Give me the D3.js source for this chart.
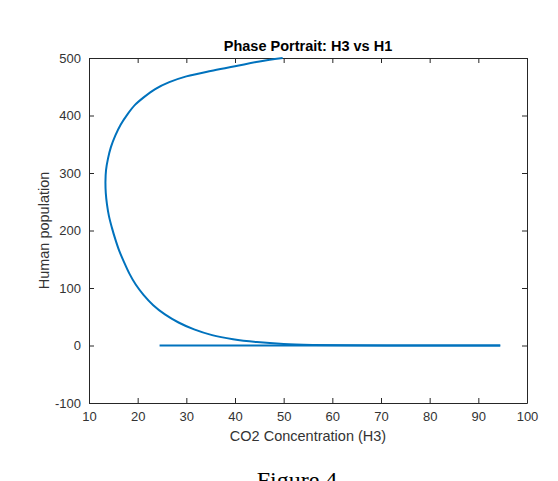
<!DOCTYPE html>
<html>
<head>
<meta charset="utf-8">
<script src="https://cdn.jsdelivr.net/npm/d3@7"></script>
<style>
  body { margin: 0; background: #fff; }
  svg { display: block; }
  .axis text { font-family: "Liberation Sans", Arial, sans-serif; font-size: 13px; fill: #333; }
  .axis path, .axis line { stroke: #262626; }
</style>
</head>
<body>
<svg id="chart" width="558" height="481"></svg>
<script>
// CO2 concentration (H3) and human population (H1) along the trajectory
var h3 = [49.8, 44.7, 40, 35, 30, 26.5, 23.6, 21.3, 19.4, 17.9, 16.5, 15.4, 14.5, 13.9, 13.5, 13.38, 13.45, 13.7, 14.1, 14.7,
	15.4, 16.2, 17.2, 18.3, 19.6, 21.2, 23.2, 25.6, 28.4, 31.6, 35.3, 39.6, 44.5, 50, 56, 63, 72, 82, 94.5];
var h1 = [500, 493.5, 485.5, 477.5, 468, 458, 446, 432, 418, 402, 384, 365, 345, 325, 305, 285, 265, 245, 225, 205,
	185, 165, 145, 125, 106, 88, 70, 54, 40, 28, 18, 11, 6, 2.6, 1, 0.3, 0.08, 0, 0];
// flat tail where H1 stays at zero
var tailH3 = [94.5, 24.5];
var tailH1 = [0, 0];

var xTicks = [10, 20, 30, 40, 50, 60, 70, 80, 90, 100];
var yTicks = [-100, 0, 100, 200, 300, 400, 500];

var svg = d3.select('#chart'),
	margin = { top: 58, right: 31, bottom: 78, left: 89 },
	width = 558 - margin.left - margin.right,
	height = 481 - margin.top - margin.bottom;

var x = d3.scaleLinear().domain([10, 100]).range([0, width]);
var y = d3.scaleLinear().domain([-100, 500]).range([height, 0]);

var g = svg.append('g')
	.attr('transform', 'translate(' + margin.left + ',' + margin.top + ')');

// matlab style labels use a plain hyphen for negatives
var fmt = function(d) { return String(d); };

// axes, ticks pointing inward on all sides (box on)
g.append('g').attr('class', 'axis')
	.attr('transform', 'translate(0,' + height + ')')
	.call(d3.axisBottom(x).tickValues(xTicks).tickFormat(fmt).tickSizeInner(-5).tickSizeOuter(0).tickPadding(9));
g.append('g').attr('class', 'axis')
	.call(d3.axisLeft(y).tickValues(yTicks).tickFormat(fmt).tickSizeInner(-5).tickSizeOuter(0).tickPadding(8));
g.append('g').attr('class', 'axis')
	.call(d3.axisTop(x).tickValues(xTicks).tickSizeInner(-5).tickSizeOuter(0).tickFormat(''));
g.append('g').attr('class', 'axis')
	.attr('transform', 'translate(' + width + ',0)')
	.call(d3.axisRight(y).tickValues(yTicks).tickSizeInner(-5).tickSizeOuter(0).tickFormat(''));

// trajectory
var line = d3.line()
	.x(function(d) { return x(d[0]); })
	.y(function(d) { return y(d[1]); });

g.append('path')
	.datum(d3.zip(h3, h1))
	.attr('fill', 'none')
	.attr('stroke', '#0072BD')
	.attr('stroke-width', 2)
	.attr('d', line.curve(d3.curveCatmullRom.alpha(0.5)));

g.append('path')
	.datum(d3.zip(tailH3, tailH1))
	.attr('fill', 'none')
	.attr('stroke', '#0072BD')
	.attr('stroke-width', 2)
	.attr('d', line.curve(d3.curveLinear));

// labels
g.append('text')
	.attr('x', width / 2).attr('y', -7)
	.attr('text-anchor', 'middle')
	.style('font-family', '"Liberation Sans", Arial, sans-serif')
	.style('font-size', '14.5px').style('font-weight', 'bold').style('fill', '#000')
	.text('Phase Portrait: H3 vs H1');

g.append('text')
	.attr('x', width / 2).attr('y', height + 38)
	.attr('text-anchor', 'middle')
	.style('font-family', '"Liberation Sans", Arial, sans-serif')
	.style('font-size', '14.5px').style('fill', '#333')
	.text('CO2 Concentration (H3)');

g.append('text')
	.attr('transform', 'translate(' + (-40) + ',' + (height / 2) + ') rotate(-90)')
	.attr('text-anchor', 'middle')
	.style('font-family', '"Liberation Sans", Arial, sans-serif')
	.style('font-size', '14.5px').style('fill', '#333')
	.text('Human population');

// caption, cut by the bottom edge as in the source
svg.append('text')
	.attr('x', 297).attr('y', 488)
	.attr('text-anchor', 'middle')
	.style('font-family', '"Liberation Serif", "Times New Roman", serif')
	.style('font-size', '24px').style('fill', '#000')
	.text('Figure 4');
</script>
</body>
</html>
